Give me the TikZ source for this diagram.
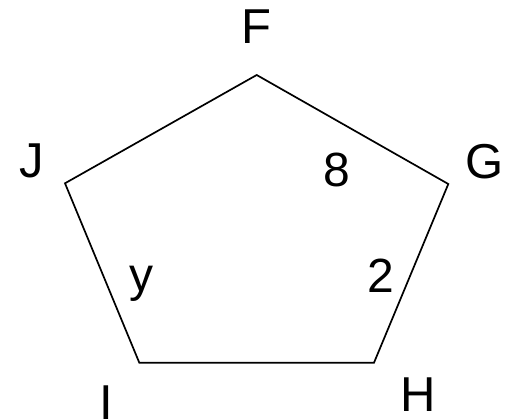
\documentclass[tikz,border=0pt]{standalone}
\usepackage{fontspec}
\setmainfont{Liberation Sans}
\usepackage{tikz}
\usetikzlibrary{positioning}

\begin{document}
\begin{tikzpicture}[
  x=1pt,y=-1pt,
  edge/.style={draw=black,line width=1.7pt,line join=miter},
  vlabel/.style={anchor=base,inner sep=0pt,font=\fontsize{49}{49}\selectfont},
  slabel/.style={anchor=base,inner sep=0pt,font=\fontsize{48}{48}\selectfont}
]
\useasboundingbox (0,0) rectangle (505,419);
% corners
\coordinate (f) at (256.7,75);
\coordinate (g) at (448.3,184);
\coordinate (h) at (374,362.7);
\coordinate (i) at (139.3,362.7);
\coordinate (j) at (65,183.3);
\draw[edge] (f) -- (g) -- (h) -- (i) -- (j) -- cycle;
% corner names
\node[vlabel] (labF) at (256,43.3) {F};
\node[vlabel] (labG) at (485,178.5) {G};
\node[vlabel] (labH) at (418,411.7) {H};
\node[vlabel] (labI) at (106.7,419) {I};
\node[vlabel] (labJ) at (31.7,178) {J};
% side values
\node[slabel] (side8) at (337,187) {8};
\node[slabel] (side2) at (381,292) {2};
\node[slabel] (sidey) at (141,291.7) {y};
\end{tikzpicture}
\end{document}
